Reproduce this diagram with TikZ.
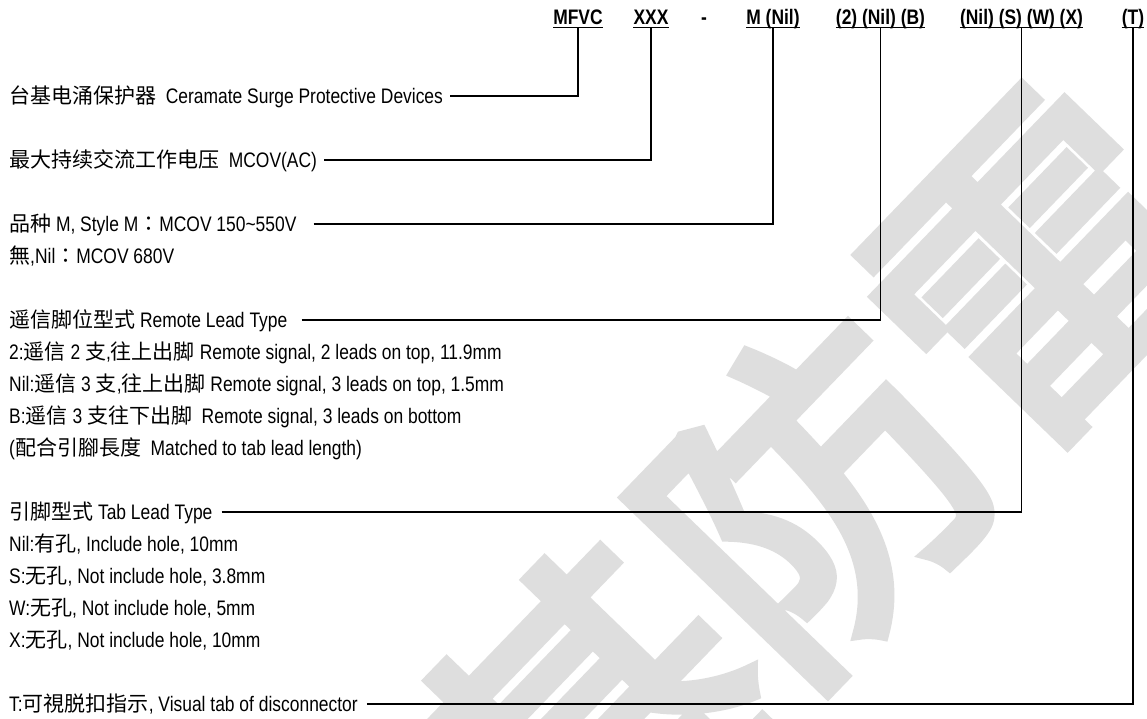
\documentclass[tikz,border=0pt]{standalone}
\usepackage{fontspec}
\setmainfont{Liberation Sans}[FakeStretch=0.83]
\newfontfamily\cjk{Noto Sans CJK SC}
\newfontfamily\cjktc{Noto Sans CJK TC}
\newfontfamily\markfont{Noto Sans CJK SC}[FakeBold=4]
\newcommand\zh[1]{{\cjk #1}}
\newcommand\zhcolon{{\cjktc ：}}
\definecolor{markgray}{RGB}{222,222,222}

\begin{document}
\begin{tikzpicture}[x=1pt, y=-1pt,
	every node/.style={font=\fontsize{21}{21}\selectfont, inner sep=0pt},
	code/.style={font=\fontsize{21}{21}\selectfont\bfseries, text height=15pt, text depth=2.5pt, anchor=south},
	item/.style={text height=15pt, text depth=1pt, anchor=west},
	lead/.style={line width=1.6pt},
	uline/.style={line width=1.4pt}]
	\useasboundingbox (0,0) rectangle (1147,718);
	\node[font=\markfont\fontsize{320}{320}\selectfont, text=markgray, rotate=46] (mark) at (815,494) {基防雷};

	\node[code] (mfvc) at (578,27.5) {MFVC};
	\node[code] (xxx) at (651,27.5) {XXX};
	\node[code] (dash) at (704,27.5) {-};
	\node[code] (mnil) at (773,27.5) {M (Nil)};
	\node[code] (rnil) at (880.5,27.5) {(2) (Nil) (B)};
	\node[code] (tnil) at (1021.5,27.5) {(Nil) (S) (W) (X)};
	\node[code] (t) at (1133,27.5) {(T)};
	\foreach \n in {mfvc,xxx,mnil,rnil,tnil,t}
		\draw[uline] (\n.south west) -- (\n.south east);

	\node[item] (devices) at (9,96) {\zh{台基电涌保护器}\ \ Ceramate Surge Protective Devices};
	\node[item] (mcov) at (9,160) {\zh{最大持续交流工作电压}\ \ MCOV(AC)};
	\node[item] (stylem) at (9,224) {\zh{品种} M, Style M\zhcolon MCOV 150\textasciitilde550V};
	\node[item] (stylenil) at (9,256) {\zh{無},Nil\zhcolon MCOV 680V};
	\node[item] (remote) at (9,320) {\zh{遥信脚位型式} Remote Lead Type};
	\node[item] (remote2) at (9,352) {2:\zh{遥信} 2 \zh{支},\zh{往上出脚} Remote signal, 2 leads on top, 11.9mm};
	\node[item] (remotenil) at (9,384) {Nil:\zh{遥信} 3 \zh{支},\zh{往上出脚} Remote signal, 3 leads on top, 1.5mm};
	\node[item] (remoteb) at (9,416) {B:\zh{遥信} 3 \zh{支往下出脚}\ \ Remote signal, 3 leads on bottom};
	\node[item] (matched) at (9,448) {(\zh{配合引腳長度}\ \ Matched to tab lead length)};
	\node[item] (tab) at (9,512) {\zh{引脚型式} Tab Lead Type};
	\node[item] (tabnil) at (9,544) {Nil:\zh{有孔}, Include hole, 10mm};
	\node[item] (tabs) at (9,576) {S:\zh{无孔}, Not include hole, 3.8mm};
	\node[item] (tabw) at (9,608) {W:\zh{无孔}, Not include hole, 5mm};
	\node[item] (tabx) at (9,640) {X:\zh{无孔}, Not include hole, 10mm};
	\node[item] (visual) at (9,704) {T:\zh{可視脱扣指示}, Visual tab of disconnector};

	\draw[lead] ([xshift=7pt]devices.east) -| (mfvc.south);
	\draw[lead] ([xshift=7pt]mcov.east) -| (xxx.south);
	\draw[lead] ([xshift=17pt]stylem.east) -| (mnil.south);
	\draw[lead] ([xshift=14pt]remote.east) -| (rnil.south);
	\draw[lead] ([xshift=9pt]tab.east) -| (tnil.south);
	\draw[lead] ([xshift=9pt]visual.east) -| (t.south);
\end{tikzpicture}
\end{document}
